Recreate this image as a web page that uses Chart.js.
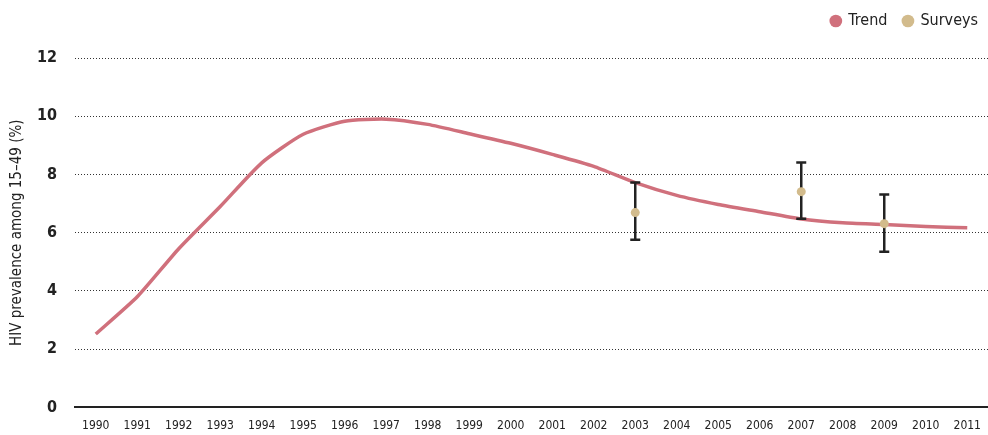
<!DOCTYPE html>
<html>
<head>
<meta charset="utf-8">
<script src="https://cdn.jsdelivr.net/npm/chart.js@4/dist/chart.umd.min.js"></script>
<style>
  html, body { margin: 0; padding: 0; background: #fff; }
  #wrap { width: 988px; height: 435px; position: relative; }
</style>
</head>
<body>
<div id="wrap"><canvas id="hivChart"></canvas></div>
<script>
// data
const years = ["1990","1991","1992","1993","1994","1995","1996","1997","1998","1999","2000",
               "2001","2002","2003","2004","2005","2006","2007","2008","2009","2010","2011"];
const trend = [2.52, 3.8, 5.45, 6.9, 8.4, 9.38, 9.83, 9.9, 9.72, 9.4, 9.07,
               8.69, 8.28, 7.72, 7.28, 6.97, 6.72, 6.47, 6.34, 6.28, 6.21, 6.17];
const surveyYears = ["2003", "2007", "2009"];
const surveyValues = [6.69, 7.41, 6.31];
const surveyLow = [5.76, 6.48, 5.35];
const surveyHigh = [7.72, 8.41, 7.31];
const yTicks = [0, 2, 4, 6, 8, 10, 12];

const FONT = "'Liberation Sans Narrow', 'DejaVu Sans Condensed', 'Liberation Sans', sans-serif";

// surveys placed on the year categories
const surveySeries = years.map(y => {
    const i = surveyYears.indexOf(y);
    return i >= 0 ? surveyValues[i] : null;
});

// extra room under the legend
const legendGap = {
    id: "legendGap",
    beforeInit(chart) {
        const fit = chart.legend.fit;
        chart.legend.fit = function () {
            fit.call(this);
            this.height += 19;
        };
    }
};

// error bars drawn through the chart scales
const errorBars = {
    id: "errorBars",
    afterDatasetsDraw(chart) {
        const ctx = chart.ctx;
        const xs = chart.scales.x;
        const ys = chart.scales.y;
        ctx.save();
        ctx.strokeStyle = "#222";
        ctx.lineWidth = 2.5;
        surveyYears.forEach((yr, i) => {
            const x = xs.getPixelForValue(years.indexOf(yr));
            const top = ys.getPixelForValue(surveyHigh[i]);
            const bot = ys.getPixelForValue(surveyLow[i]);
            ctx.beginPath();
            ctx.moveTo(x, top); ctx.lineTo(x, bot);
            ctx.moveTo(x - 5, top); ctx.lineTo(x + 5, top);
            ctx.moveTo(x - 5, bot); ctx.lineTo(x + 5, bot);
            ctx.stroke();
        });
        // survey dots on top of the bars
        const meta = chart.getDatasetMeta(1);
        meta.data.forEach((pt, i) => {
            if (surveySeries[i] == null) return;
            ctx.beginPath();
            ctx.fillStyle = "#d2bb8c";
            ctx.arc(pt.x, pt.y, 4.5, 0, Math.PI * 2);
            ctx.fill();
        });
        ctx.restore();
    }
};

new Chart(document.getElementById("hivChart"), {
    type: "line",
    data: {
        labels: years,
        datasets: [{
            label: "Trend",
            data: trend,
            borderColor: "#d0707c",
            backgroundColor: "#d0707c",
            borderWidth: 3.5,
            pointRadius: 0,
            tension: 0.2
        }, {
            label: "Surveys",
            data: surveySeries,
            showLine: false,
            borderColor: "#d2bb8c",
            backgroundColor: "#d2bb8c",
            pointRadius: 0
        }]
    },
    options: {
        responsive: true,
        maintainAspectRatio: false,
        animation: false,
        layout: { padding: { left: 0, right: -6, top: -3, bottom: -4 } },
        plugins: {
            legend: {
                position: "top",
                align: "end",
                labels: {
                    usePointStyle: true,
                    boxWidth: 9,
                    boxHeight: 9,
                    padding: 16,
                    color: "#222",
                    font: { family: FONT, size: 16 },
                    generateLabels: chart => chart.data.datasets.map((ds, i) => ({
                        text: ds.label,
                        fillStyle: ds.backgroundColor,
                        strokeStyle: ds.backgroundColor,
                        lineWidth: 0,
                        pointStyle: "circle",
                        datasetIndex: i,
                        fontColor: "#222"
                    }))
                }
            },
            tooltip: { enabled: false }
        },
        scales: {
            x: {
                offset: true,
                grid: { display: false },
                border: { display: true, color: "#222", width: 2 },
                ticks: { color: "#222", font: { family: FONT, size: 12 }, maxRotation: 0, autoSkip: false, padding: 3 }
            },
            y: {
                min: 0,
                max: 12,
                afterBuildTicks: axis => { axis.ticks = yTicks.map(v => ({ value: v })); },
                afterFit: axis => { axis.width = 75; },
                grid: { color: "#333", lineWidth: 1, drawTicks: false },
                border: { display: false, dash: [1, 2] },
                ticks: { color: "#222", font: { family: FONT, size: 16, weight: "bold" }, padding: 18 },
                title: {
                    display: true,
                    text: "HIV prevalence among 15–49 (%)",
                    color: "#222",
                    font: { family: FONT, size: 15 },
                    padding: { top: 8, bottom: 0 }
                }
            }
        }
    },
    plugins: [legendGap, errorBars]
});
</script>
</body>
</html>
